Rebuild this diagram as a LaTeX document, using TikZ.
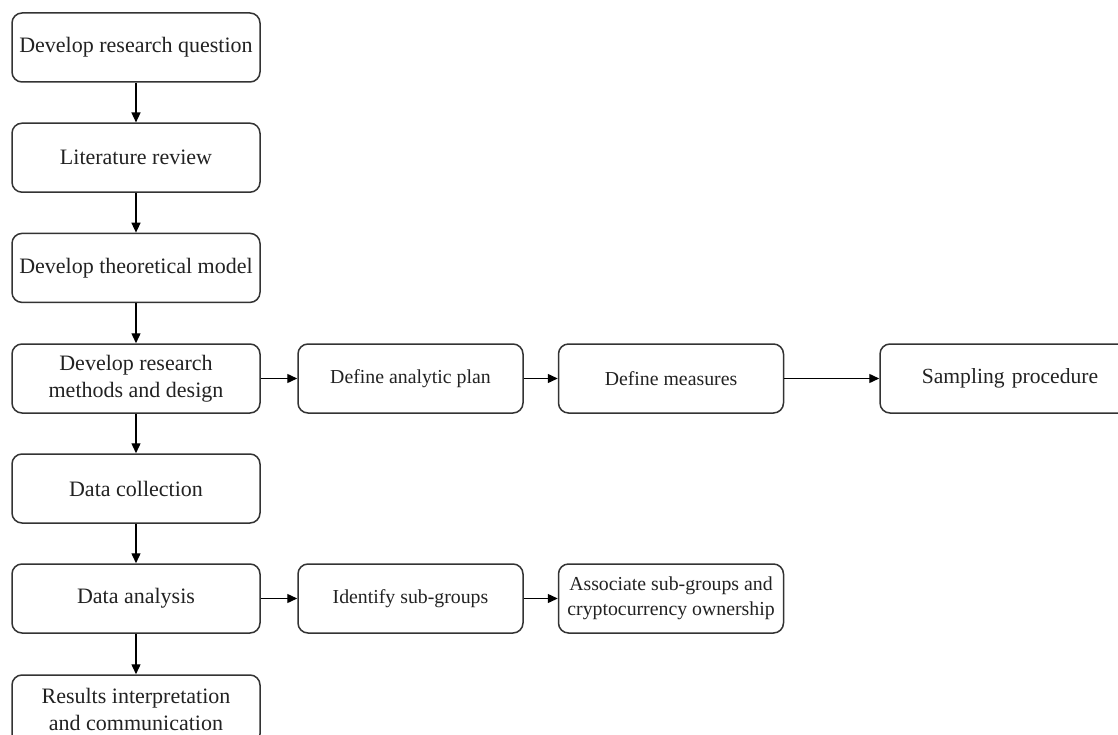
\documentclass[tikz,border=0pt]{standalone}
\usepackage{fontspec}
\setmainfont{Liberation Serif}
\usetikzlibrary{arrows.meta}
\definecolor{ln}{HTML}{333333}
\definecolor{tx}{HTML}{222222}
\tikzset{
  box/.style={draw=ln, line width=1.5pt, rounded corners=10pt, fill=white,
    align=center, text=tx, font=\fontsize{22}{26.5}\selectfont,
    inner sep=0pt, minimum height=69pt},
  lbox/.style={box, minimum width=248pt},
  mbox/.style={box, minimum width=225pt, font=\fontsize{19.8}{25}\selectfont},
  arr/.style={draw=black, line width=1.4pt, -{Triangle[length=10pt,width=9pt]}}
}
\begin{document}
\begin{tikzpicture}[x=1pt,y=-1pt]
\useasboundingbox (0,0) rectangle (1118,735);
\clip (0,0) rectangle (1118,735);
\node[lbox] (q) at (136,47.5) {Develop research question};
\node[lbox] (lit) at (136,157.7) {Literature review};
\node[lbox] (theo) at (136,267.9) {Develop theoretical model};
\node[lbox] (meth) at (136,378.5) {Develop research\\methods and design};
\node[lbox] (coll) at (136,488.5) {Data collection};
\node[lbox] (ana) at (136,598.5) {Data analysis};
\node[lbox] (res) at (136,709.5) {Results interpretation\\and communication};
\node[mbox] (plan) at (410.5,378.5) {Define analytic plan};
\node[mbox] (meas) at (671,378.5) {Define measures};
\node[box, minimum width=260pt, text width=246pt, font=\fontsize{21.6}{26}\selectfont] (samp) at (1010,378.5) {Sampling procedure};
\node[mbox] (sub) at (410.5,598.5) {Identify sub-groups};
\node[mbox] (assoc) at (671,598.5) {Associate sub-groups and\\cryptocurrency ownership};
\draw[arr] (q) -- (lit);
\draw[arr] (lit) -- (theo);
\draw[arr] (theo) -- (meth);
\draw[arr] (meth) -- (coll);
\draw[arr] (coll) -- (ana);
\draw[arr] (ana) -- (res);
\draw[arr] (meth) -- (plan);
\draw[arr] (plan) -- (meas);
\draw[arr] (meas) -- (samp);
\draw[arr] (ana) -- (sub);
\draw[arr] (sub) -- (assoc);
\end{tikzpicture}
\end{document}
